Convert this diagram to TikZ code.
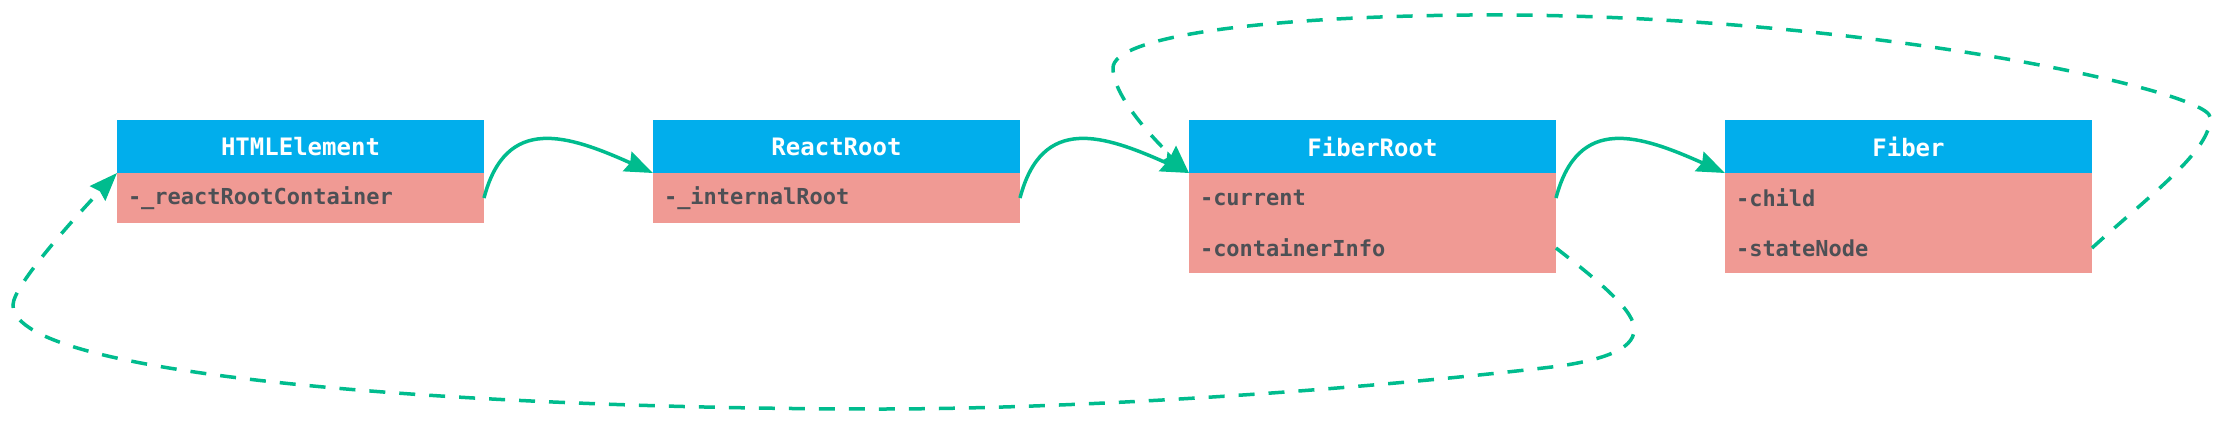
\documentclass[tikz,border=0pt]{standalone}
\usepackage{fontspec}
\setmonofont{DejaVu Sans Mono}
\usepackage{tikz}
\usetikzlibrary{positioning}
\usetikzlibrary{arrows.meta}

\definecolor{headblue}{RGB}{1,174,236}
\definecolor{rowpink}{RGB}{240,154,148}
\definecolor{linkgreen}{RGB}{0,188,142}
\definecolor{textgray}{RGB}{77,80,85}

\tikzset{
  classhead/.style={rectangle, fill=headblue, text=white,
    minimum width=183.5pt, minimum height=26.5pt, inner sep=0pt,
    outer sep=0pt,
    font=\ttfamily\bfseries\fontsize{12}{14}\selectfont},
  classrow/.style={rectangle, fill=rowpink, text=textgray,
    text width=172.5pt, align=left, inner xsep=5.5pt, inner ysep=0pt,
    minimum height=25pt, outer sep=0pt,
    font=\ttfamily\bfseries\fontsize{11}{13}\selectfont},
  linkarrow/.style={draw=linkgreen, line width=1.75pt,
    -{Stealth[length=14pt,width=10.5pt,inset=1.5pt]}},
  backarrow/.style={linkarrow, dash pattern=on 8pt off 7pt}
}

\begin{document}
\begin{tikzpicture}[x=0.5pt,y=-0.5pt, >=Stealth]

  \useasboundingbox (0,0) rectangle (2224,424);

  %--- classi
  \node[classhead] (html) at (300.5,146.5) {HTMLElement};
  \node[classrow, below=0pt of html] (htmlcont) {-\_reactRootContainer};

  \node[classhead, right=84.5pt of html] (react) {ReactRoot};
  \node[classrow, below=0pt of react] (reactinternal) {-\_internalRoot};

  \node[classhead, right=84.5pt of react] (fiberroot) {FiberRoot};
  \node[classrow, below=0pt of fiberroot] (frcurrent) {-current};
  \node[classrow, below=0pt of frcurrent] (frcontainer) {-containerInfo};

  \node[classhead, right=84.5pt of fiberroot] (fiber) {Fiber};
  \node[classrow, below=0pt of fiber] (fchild) {-child};
  \node[classrow, below=0pt of fchild] (fstate) {-stateNode};

  %--- frecce piene
  \draw[linkarrow] (htmlcont.east)
    .. controls +(22,-84) and +(-85,-38) .. (react.south west);
  \draw[linkarrow] (reactinternal.east)
    .. controls +(22,-84) and +(-85,-38) .. (fiberroot.south west);
  \draw[linkarrow] (frcurrent.east)
    .. controls +(22,-84) and +(-85,-38) .. (fiber.south west);

  %--- containerInfo -> HTMLElement (sotto)
  \draw[backarrow] (frcontainer.east)
    .. controls (1600,282) and (1636,312) .. (1634,330)
    .. controls (1634,350) and (1600,360) .. (1560,366)
    .. controls (1360,390) and (1080,409) .. (880,409)
    .. controls (500,409) and (13,380) .. (13,305)
    .. controls (13,285) and (80,212) .. (html.south west);

  %--- stateNode -> FiberRoot (sopra)
  \draw[backarrow] (fstate.east)
    .. controls (2150,195) and (2212,150) .. (2210,117)
    .. controls (2208,90) and (1850,12) .. (1469,15)
    .. controls (1250,17) and (1113,38) .. (1113,68)
    .. controls (1113,100) and (1165,150) .. (fiberroot.south west);
\end{tikzpicture}
\end{document}
